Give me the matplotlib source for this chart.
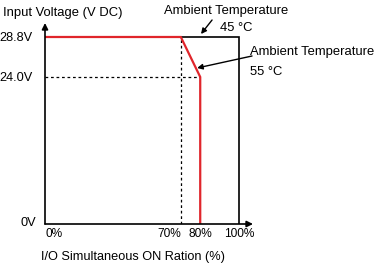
import matplotlib.pyplot as plt
import matplotlib.transforms as mtransforms
import numpy as np

# derating curve
ratio_pct = [0, 70, 80, 80]
voltage_55c = [28.8, 28.8, 24.0, 0]
ratio_45c = [0, 100, 100]
voltage_45c = [28.8, 28.8, 0]

x_ticks = [0, 70, 80, 100]
x_tick_labels = ['0%', '70%', '80%', '100%']
y_ticks = [0, 24.0, 28.8]
y_tick_labels = ['0V', '24.0V', '28.8V']

FONT = ['Liberation Sans Narrow', 'Liberation Sans', 'DejaVu Sans']
plt.rcParams['font.family'] = FONT

W, H = 379, 271
fig = plt.figure(figsize=(W / 100, H / 100), dpi=100)
ax = fig.add_axes([45 / W, 47 / H, (253 - 45) / W, (224 - 23) / H])

# the y axis of the original is not linear: 24 V sits higher than it should
yv = [0, 24, 28.8, 40]
yp = [0, 147, 187, 280.3]
fwd = lambda v: np.interp(v, yv, yp)
inv = lambda p: np.interp(p, yp, yv)
ax.set_yscale('function', functions=(fwd, inv))

ax.set_xlim(0, 107.2)
ax.set_ylim(0, 30.48)

dash = (0, (2.2, 2.2))
ax.plot([70, 70], [0, 28.8], color='k', lw=0.9, ls=dash)
ax.plot([0, 80], [24, 24], color='k', lw=0.9, ls=dash)
ax.plot(ratio_45c, voltage_45c, color='k', lw=1.2, solid_joinstyle='miter')
ax.plot(ratio_pct, voltage_55c, color='#e0252b', lw=1.6, solid_joinstyle='miter')

for s in ax.spines.values():
    s.set_visible(False)
arrow = dict(arrowstyle='-|>', color='k', lw=1.2, mutation_scale=9, shrinkA=0, shrinkB=0)
ax.annotate('', xy=(0, 1), xytext=(0, 0), xycoords='axes fraction', arrowprops=arrow)
ax.annotate('', xy=(1, 0), xytext=(0, 0), xycoords='axes fraction', arrowprops=arrow)

ax.set_xticks(x_ticks)
ax.set_xticklabels(x_tick_labels, fontsize=8.6)
ax.set_yticks(y_ticks)
ax.set_yticklabels(y_tick_labels, fontsize=9.2)
ax.yaxis.set_minor_locator(plt.NullLocator())
ax.tick_params(length=0, pad=3)
ax.tick_params(axis='y', pad=9)
xl = ax.get_xticklabels()
xl[0].set_ha('left')
xl[1].set_ha('right')
yl = ax.get_yticklabels()
yl[0].set_transform(yl[0].get_transform() +
                    mtransforms.ScaledTranslation(4 / 100, 3 / 100, fig.dpi_scale_trans))

# arrows to the two curves
thin = dict(arrowstyle='-|>', color='k', lw=1.0, mutation_scale=8, shrinkA=0, shrinkB=0)
ax.annotate('', xy=(80.4, 29.16), xytext=(86.1, 30.84), arrowprops=thin, annotation_clip=False)
ax.annotate('', xy=(78.4, 25.08), xytext=(106.7, 26.52), arrowprops=thin, annotation_clip=False)

def px_text(x, y, s, size=9.4):
    fig.text(x / W, 1 - y / H, s, va='center', fontsize=size)

px_text(3, 13, 'Input Voltage (V DC)')
px_text(41, 257, 'I/O Simultaneous ON Ration (%)', 9.2)
px_text(164, 11, 'Ambient Temperature', 9.4)
px_text(220, 28, '45 °C', 9.4)
px_text(250, 52, 'Ambient Temperature', 9.4)
px_text(250, 72, '55 °C', 9.4)

fig.savefig('out.png', dpi=100)
